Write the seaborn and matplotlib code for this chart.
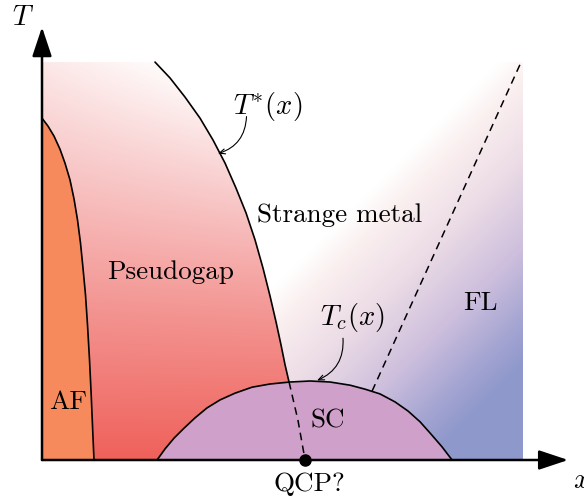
import numpy as np
import matplotlib
matplotlib.use("Agg")
import matplotlib.pyplot as plt
from matplotlib.colors import LinearSegmentedColormap
from matplotlib.patches import Polygon
import seaborn as sns

# phase boundaries (x = doping, T = temperature, both scaled 0..1)
af_x = [0.0, 0.0125, 0.025, 0.0375, 0.0479, 0.0583, 0.0667, 0.0740, 0.0802, 0.0854,
        0.0906, 0.0948, 0.0990, 0.1025, 0.1056, 0.1083]
af_T = [0.859, 0.839, 0.814, 0.781, 0.746, 0.704, 0.656, 0.603, 0.545, 0.482,
        0.415, 0.339, 0.251, 0.163, 0.075, 0.0]

tstar_x = [0.2354, 0.2667, 0.2979, 0.3292, 0.3563, 0.3813, 0.4042, 0.4250, 0.4438,
           0.4604, 0.4750, 0.4875, 0.4979, 0.5063, 0.5146]
tstar_T = [1.0, 0.960, 0.912, 0.859, 0.804, 0.746, 0.683, 0.621, 0.553,
           0.482, 0.412, 0.347, 0.289, 0.239, 0.196]

qcp_x = [0.5146, 0.533, 0.548]
qcp_T = [0.196, 0.101, 0.0]

dome_x = [0.2396, 0.2563, 0.2750, 0.2958, 0.3188, 0.3438, 0.3708, 0.4021, 0.4375, 0.4750,
          0.5167, 0.5583, 0.6000, 0.6417, 0.6729, 0.7042, 0.7354, 0.7625, 0.7875, 0.8104,
          0.8333, 0.8542]
dome_T = [0.0, 0.028, 0.055, 0.080, 0.106, 0.131, 0.151, 0.168, 0.183, 0.191,
          0.196, 0.1985, 0.196, 0.188, 0.178, 0.166, 0.146, 0.123, 0.096, 0.065,
          0.033, 0.0]

fl_x = [0.6875, 0.998]
fl_T = [0.173, 1.0]

qcp_point = (0.548, 0.0)

AF_COLOR = "#f68a5d"
SC_COLOR = "#cfa0c9"

sns.set_theme(style="white")
plt.rcParams["mathtext.fontset"] = "cm"
plt.rcParams["axes.unicode_minus"] = False
plt.rcParams["text.color"] = "black"
FONT = "cmr10"
FS = 19.5
MFS = 20.5

fig = plt.figure(figsize=(5.84, 4.99), dpi=100)
ax = fig.add_axes([0, 0, 1, 1])
ax.set_axis_off()

# background shading: white at top-left to blue at bottom-right (iso-lines at 45 degrees on screen)
bg_cmap = LinearSegmentedColormap.from_list("bg", [
    (0.0, "#ffffff"), (0.52, "#ffffff"), (0.565, "#fbf0f0"), (0.656, "#ecdce6"),
    (0.759, "#cdbfdd"), (0.838, "#a6a6d3"), (0.895, "#8e98cb"), (1.0, "#8e98cb")])
gx, gy = np.meshgrid(np.linspace(0, 1, 400), np.linspace(0, 1, 400))
s = (480 * gx + 398 * (1 - gy)) / 878
ax.imshow(bg_cmap(s), extent=(0, 1, 0, 1), origin="lower", aspect="auto",
          interpolation="bilinear", zorder=0)

# pseudogap shading: pale at top (whitest near T*), red at the bottom
pg_cmap = LinearSegmentedColormap.from_list("pg", [
    (0.0, "#fffafa"), (0.3, "#f8c6c6"), (0.6, "#f39491"), (1.0, "#ef5a53")])
t = np.clip((1 - gy) * 0.95 + 0.5 * (0.22 - gx) * gy ** 2, 0, 1)
pg_img = ax.imshow(pg_cmap(t), extent=(0, 1, 0, 1), origin="lower", aspect="auto",
                   interpolation="bilinear", zorder=1)
pg_poly = Polygon(list(zip([0, 0] + tstar_x + qcp_x[1:], [0, 1] + tstar_T + qcp_T[1:])),
                  closed=True, transform=ax.transData)
pg_img.set_clip_path(pg_poly)

# AF and SC regions
ax.fill_betweenx(af_T, 0, af_x, color=AF_COLOR, lw=0, zorder=2)
ax.fill_between(dome_x, 0, dome_T, color=SC_COLOR, lw=0, zorder=2)

# boundaries
for xs, ts in [(af_x, af_T), (tstar_x, tstar_T), (dome_x, dome_T)]:
    sns.lineplot(x=xs, y=ts, sort=False, color="black", lw=1.2, ax=ax, zorder=3)
for xs, ts in [(qcp_x, qcp_T), (fl_x, fl_T)]:
    sns.lineplot(x=xs, y=ts, sort=False, color="black", lw=1.1, ax=ax, zorder=3,
                 linestyle=(0, (5, 3.5)))

# axes with arrows
arrow_kw = dict(arrowstyle="-|>,head_length=0.9,head_width=0.3", color="black",
                lw=1.8, mutation_scale=20, shrinkA=0, shrinkB=0)
ax.annotate("", xy=(1.096, 0), xytext=(0, 0), arrowprops=arrow_kw, zorder=4)
ax.annotate("", xy=(0, 1.088), xytext=(0, 0), arrowprops=arrow_kw, zorder=4)
ax.plot(*qcp_point, "o", color="black", ms=8, zorder=5, clip_on=False)

# labels
ax.text(-0.04, 1.113, "$T$", fontsize=MFS, ha="center", va="center")
ax.text(1.106, -0.05, "$x$", fontsize=MFS, ha="left", va="center")
ax.text(0.471, 0.889, "$T^{*}(x)$", fontsize=MFS, ha="center", va="center")
ax.text(0.646, 0.357, "$T_c(x)$", fontsize=MFS, ha="center", va="center")
ax.text(0.62, 0.616, "Strange metal", fontsize=FS, family=FONT, ha="center", va="center")
ax.text(0.267, 0.472, "Pseudogap", fontsize=FS, family=FONT, ha="center", va="center")
ax.text(0.9125, 0.394, "FL", fontsize=FS, family=FONT, ha="center", va="center")
ax.text(0.596, 0.10, "SC", fontsize=FS, family=FONT, ha="center", va="center")
ax.text(0.054, 0.146, "AF", fontsize=FS, family=FONT, ha="center", va="center")
ax.text(0.556, -0.06, "QCP?", fontsize=FS, family=FONT, ha="center", va="center")

thin_kw = dict(arrowstyle="->,head_length=0.35,head_width=0.15", color="black", lw=0.8,
               mutation_scale=12, shrinkA=0, shrinkB=0, connectionstyle="arc3,rad=-0.35")
ax.annotate("", xy=(0.3665, 0.77), xytext=(0.426, 0.863), arrowprops=thin_kw, zorder=4)
ax.annotate("", xy=(0.573, 0.20), xytext=(0.627, 0.306), arrowprops=thin_kw, zorder=4)

ax.set_xlim(-0.0875, 1.129)
ax.set_ylim(-0.098, 1.156)

fig.savefig("out.png", dpi=100)
